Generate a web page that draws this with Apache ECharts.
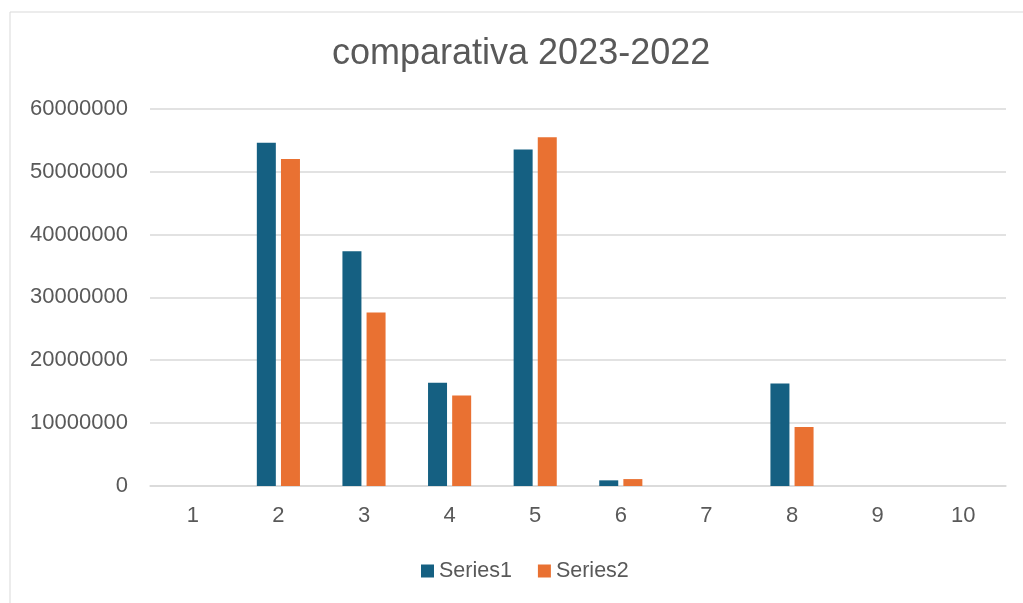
<!DOCTYPE html>
<html>
<head>
<meta charset="utf-8">
<script src="https://cdn.jsdelivr.net/npm/echarts@6/dist/echarts.min.js"></script>
<style>
html,body{margin:0;padding:0;background:#fff;}
#chart{width:1023px;height:603px;}
</style>
</head>
<body>
<div id="chart"></div>
<script>
const categories = ['1','2','3','4','5','6','7','8','9','10'];
const series1 = [0, 54600000, 37350000, 16400000, 53500000, 900000, 0, 16300000, 0, 0];
const series2 = [0, 52000000, 27600000, 14400000, 55450000, 1100000, 0, 9400000, 0, 0];
const seriesNames = ['Series1', 'Series2'];
const titleText = 'comparativa 2023-2022';

const FONT = 'Liberation Sans, Arial, sans-serif';
const chart = echarts.init(document.getElementById('chart'), null, {renderer: 'canvas'});
chart.setOption({
  backgroundColor: '#ffffff',
  animation: false,
  graphic: [{
    type: 'rect', left: 7.5, top: 9.5, z: -1,
    shape: {width: 1040, height: 620},
    style: {fill: 'none', stroke: '#d9d9d9', lineWidth: 1}
  }],
  title: {
    text: titleText,
    left: 332,
    top: 36,
    padding: 0,
    textStyle: {fontFamily: FONT, fontSize: 36, fontWeight: 'normal', color: '#595959'}
  },
  legend: {
    data: seriesNames,
    left: 416,
    top: 555,
    icon: 'rect',
    itemWidth: 13,
    itemHeight: 13,
    itemGap: 26,
    textStyle: {fontFamily: FONT, fontSize: 21.5, color: '#595959'}
  },
  grid: {left: 150, right: 17, top: 108.7, bottom: 117, containLabel: false},
  xAxis: {
    type: 'category',
    data: categories,
    axisLine: {show: true, lineStyle: {color: '#d9d9d9', width: 1.5}},
    axisTick: {show: false},
    axisLabel: {fontFamily: FONT, fontSize: 22, color: '#595959', margin: 19}
  },
  yAxis: {
    type: 'value',
    min: 0, max: 60000000, interval: 10000000,
    axisLine: {show: false},
    axisTick: {show: false},
    splitLine: {lineStyle: {color: '#d9d9d9', width: 1.5}},
    axisLabel: {fontFamily: FONT, fontSize: 22, color: '#595959', margin: 22,
      formatter: function (v) { return String(v); }}
  },
  series: [
    {name: seriesNames[0], type: 'bar', data: series1, barWidth: 19, barGap: '27%',
     itemStyle: {color: '#156082'}},
    {name: seriesNames[1], type: 'bar', data: series2, barWidth: 19, barGap: '27%',
     itemStyle: {color: '#E97132'}}
  ]
});
</script>
</body>
</html>
